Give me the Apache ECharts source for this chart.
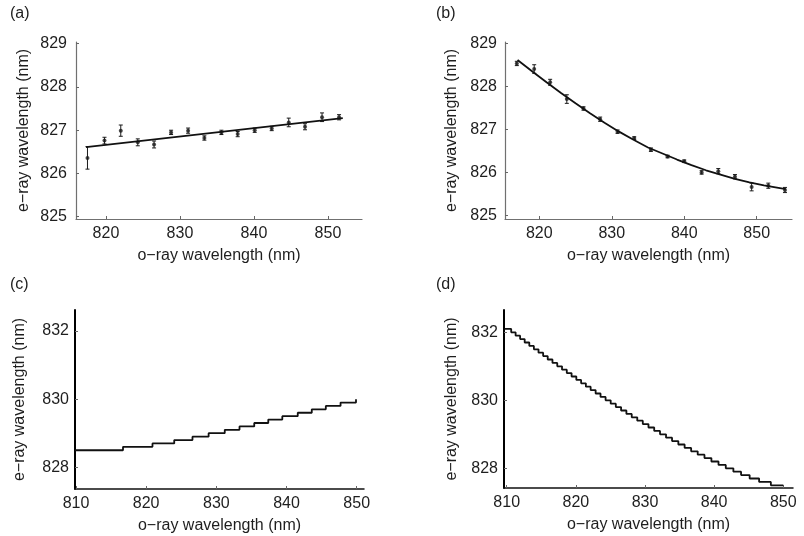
<!DOCTYPE html>
<html>
<head>
<meta charset="utf-8">
<script src="https://cdn.jsdelivr.net/npm/echarts@6/dist/echarts.min.js"></script>
<style>html,body{margin:0;padding:0;background:#fff;}#c{width:804px;height:536px;}</style>
</head>
<body>
<div id="c"></div>
<script>
// Panel (a): measured points, error half-widths, linear fit
const aX = [817.5, 819.8, 822.0, 824.3, 826.5, 828.8, 831.1, 833.3, 835.6, 837.8, 840.1, 842.4, 844.7, 846.9, 849.2, 851.5];
const aY = [826.36, 826.76, 826.99, 826.72, 826.67, 826.95, 826.99, 826.82, 826.95, 826.91, 827.00, 827.04, 827.18, 827.08, 827.30, 827.30];
const aErr = [0.26, 0.077, 0.13, 0.08, 0.08, 0.05, 0.06, 0.05, 0.05, 0.06, 0.05, 0.05, 0.1, 0.07, 0.1, 0.06];
const aFitX = [817.3, 852.0];
const aFitY = [826.61, 827.28];

const bX = [816.9, 819.3, 821.5, 823.8, 826.1, 828.4, 830.8, 833.1, 835.4, 837.7, 840.0, 842.4, 844.7, 847.0, 849.3, 851.6, 853.9];
const bY = [828.54, 828.41, 828.10, 827.71, 827.49, 827.24, 826.95, 826.80, 826.53, 826.37, 826.26, 826.00, 826.03, 825.90, 825.66, 825.69, 825.59];
const bErr = [0.05, 0.1, 0.07, 0.1, 0.04, 0.05, 0.04, 0.03, 0.04, 0.03, 0.03, 0.04, 0.06, 0.05, 0.09, 0.06, 0.06];
const bFitX = [817, 819, 821, 823, 825, 827, 829, 831, 833, 835, 837, 839, 841, 843, 845, 847, 849, 851, 853, 854];
const bFitY = [828.62, 828.36, 828.10, 827.85, 827.61, 827.38, 827.16, 826.95, 826.76, 826.58, 826.44, 826.30, 826.17, 826.05, 825.95, 825.85, 825.77, 825.70, 825.64, 825.61];

// Panel (c): staircase (x where each 0.1 nm step occurs, level after step)
const cX = [809.86, 816.7, 820.9, 824.0, 826.6, 828.9, 831.2, 833.3, 835.4, 837.4, 839.4, 841.6, 843.6, 845.6, 847.7, 849.9];
const cY = [828.5, 828.6, 828.7, 828.8, 828.9, 829.0, 829.1, 829.2, 829.3, 829.4, 829.5, 829.6, 829.7, 829.8, 829.9, 830.0];

// Panel (d): staircase
const dX = [809.7, 810.65, 811.29, 811.94, 812.6, 813.27, 813.93, 814.6, 815.27, 815.93, 816.62, 817.31, 818.0, 818.69, 819.38, 820.07, 820.76, 821.45, 822.14, 822.86, 823.57, 824.3, 825.04, 825.78, 826.54, 827.31, 828.08, 828.88, 829.68, 830.5, 831.33, 832.17, 833.04, 833.91, 834.82, 835.73, 836.67, 837.62, 838.6, 839.6, 840.63, 841.68, 842.78, 843.89, 845.13, 846.5, 848.2, 850.0];
const dY = [832.1, 832.0, 831.9, 831.8, 831.7, 831.6, 831.5, 831.4, 831.3, 831.2, 831.1, 831.0, 830.9, 830.8, 830.7, 830.6, 830.5, 830.4, 830.3, 830.2, 830.1, 830.0, 829.9, 829.8, 829.7, 829.6, 829.5, 829.4, 829.3, 829.2, 829.1, 829.0, 828.9, 828.8, 828.7, 828.6, 828.5, 828.4, 828.3, 828.2, 828.1, 828.0, 827.9, 827.8, 827.7, 827.6, 827.5, 827.5];

// Tick labels
const xTicksTop = [820, 830, 840, 850];
const yTicksTop = [825, 826, 827, 828, 829];
const xTicksBottom = [810, 820, 830, 840, 850];
const yTicksBottom = [828, 830, 832];

const xName = 'o\u2212ray wavelength (nm)';
const yName = 'e\u2212ray wavelength (nm)';

const FONT = 'Liberation Sans, Arial, Helvetica, sans-serif';
const TXT = '#1e1e1e';

const zip = (xs, ys) => xs.map((x, i) => [x, ys[i]]);
const errData = (xs, ys, es) => xs.map((x, i) => [x, ys[i] - es[i], ys[i] + es[i]]);

function xAxisCfg(idx, min, max, ticks, lineColor, lineWidth, offset) {
  return {
    type: 'value', gridIndex: idx, min: min, max: max, offset: offset || 0,
    name: xName, nameLocation: 'middle', nameGap: 29,
    nameTextStyle: { fontFamily: FONT, fontSize: 16, color: TXT },
    axisLine: { show: true, onZero: false, lineStyle: { color: lineColor, width: lineWidth } },
    axisTick: { show: true, inside: true, length: 3, customValues: ticks, lineStyle: { color: '#666', width: 1 } },
    axisLabel: { customValues: ticks, margin: 7, fontFamily: FONT, fontSize: 16, color: TXT },
    splitLine: { show: false }
  };
}
function yAxisCfg(idx, min, max, ticks, lineColor, lineWidth, gap, margin) {
  return {
    type: 'value', gridIndex: idx, min: min, max: max,
    name: yName, nameLocation: 'middle', nameGap: gap,
    nameTextStyle: { fontFamily: FONT, fontSize: 16, color: TXT },
    axisLine: { show: true, onZero: false, lineStyle: { color: lineColor, width: lineWidth } },
    axisTick: { show: true, inside: true, length: 3, customValues: ticks, lineStyle: { color: '#666', width: 1 } },
    axisLabel: { customValues: ticks, margin: margin, fontFamily: FONT, fontSize: 16, color: TXT },
    splitLine: { show: false }
  };
}

function errSeries(idx, data) {
  return {
    type: 'custom', xAxisIndex: idx, yAxisIndex: idx,
    data: data, encode: { x: 0, y: [1, 2] }, z: 3, silent: true,
    renderItem: function (params, api) {
      const x = api.value(0);
      const lo = api.coord([x, api.value(1)]);
      const hi = api.coord([x, api.value(2)]);
      const w = 2;
      const st = { stroke: '#1a1a1a', lineWidth: 1 };
      return {
        type: 'group', children: [
          { type: 'line', shape: { x1: lo[0], y1: lo[1], x2: hi[0], y2: hi[1] }, style: st },
          { type: 'line', shape: { x1: lo[0] - w, y1: lo[1], x2: lo[0] + w, y2: lo[1] }, style: st },
          { type: 'line', shape: { x1: hi[0] - w, y1: hi[1], x2: hi[0] + w, y2: hi[1] }, style: st }
        ]
      };
    }
  };
}
function pointSeries(idx, data) {
  return {
    type: 'scatter', xAxisIndex: idx, yAxisIndex: idx, data: data,
    symbol: 'circle', symbolSize: 4, itemStyle: { color: '#1a1a1a' }, z: 4, silent: true
  };
}
function lineSeries(idx, data, step, width) {
  return {
    type: 'line', xAxisIndex: idx, yAxisIndex: idx, data: data,
    step: step || false, showSymbol: false, symbol: 'none', silent: true, z: 5,
    lineStyle: { color: '#111', width: width }
  };
}

const chart = echarts.init(document.getElementById('c'), null, { renderer: 'canvas' });
chart.setOption({
  animation: false,
  backgroundColor: '#fff',
  textStyle: { fontFamily: FONT },
  grid: [
    { left: 76, top: 42, width: 286, height: 177 },
    { left: 505, top: 42, width: 287, height: 177 },
    { left: 75, top: 310, width: 289, height: 179 },
    { left: 504, top: 310, width: 289, height: 178 }
  ],
  xAxis: [
    xAxisCfg(0, 815.95, 854.6, xTicksTop, '#707070', 1.2),
    xAxisCfg(1, 815.27, 854.87, xTicksTop, '#707070', 1.2),
    xAxisCfg(2, 809.86, 851.04, xTicksBottom, '#111', 1.5),
    xAxisCfg(3, 809.61, 851.4, xTicksBottom, '#111', 1.5)
  ],
  yAxis: [
    yAxisCfg(0, 824.947, 829.04, yTicksTop, '#707070', 1.2, 44, 9),
    yAxisCfg(1, 824.914, 829.04, yTicksTop, '#707070', 1.2, 45, 8),
    yAxisCfg(2, 827.363, 832.616, yTicksBottom, '#000', 2, 47, 6),
    yAxisCfg(3, 827.42, 832.656, yTicksBottom, '#000', 2, 44, 6)
  ],
  graphic: [
    { type: 'text', left: 10, top: 6, style: { text: '(a)', font: '16px ' + FONT, fill: TXT } },
    { type: 'text', left: 436, top: 6, style: { text: '(b)', font: '16px ' + FONT, fill: TXT } },
    { type: 'text', left: 10, top: 277, style: { text: '(c)', font: '16px ' + FONT, fill: TXT } },
    { type: 'text', left: 436, top: 277, style: { text: '(d)', font: '16px ' + FONT, fill: TXT } }
  ],
  series: [
    lineSeries(0, zip(aFitX, aFitY), false, 1.8),
    errSeries(0, errData(aX, aY, aErr)),
    pointSeries(0, zip(aX, aY)),
    lineSeries(1, zip(bFitX, bFitY), false, 1.8),
    errSeries(1, errData(bX, bY, bErr)),
    pointSeries(1, zip(bX, bY)),
    lineSeries(2, zip(cX, cY), 'end', 1.8),
    lineSeries(3, zip(dX, dY), 'end', 1.8)
  ]
});
</script>
</body>
</html>
